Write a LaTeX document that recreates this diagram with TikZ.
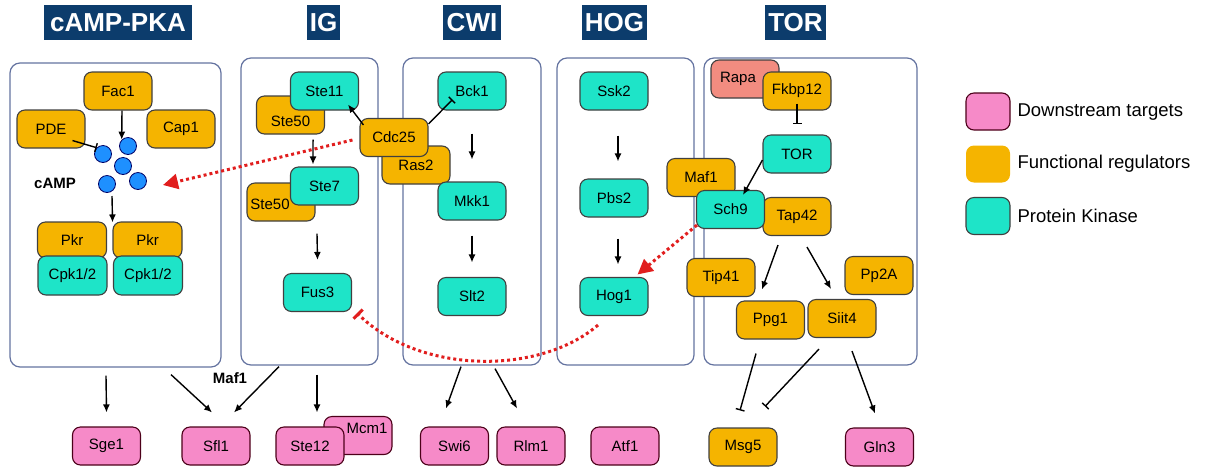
\documentclass[tikz,border=0pt]{standalone}
\usepackage{fontspec}
\setmainfont{Liberation Sans}
\usetikzlibrary{arrows.meta}

\definecolor{regcol}{RGB}{245,180,0}
\definecolor{kincol}{RGB}{30,228,200}
\definecolor{tgtcol}{RGB}{246,138,200}
\definecolor{rapacol}{RGB}{242,140,128}
\definecolor{titlecol}{RGB}{12,60,108}
\definecolor{panelcol}{RGB}{100,115,160}
\definecolor{dotcol}{RGB}{30,144,255}
\definecolor{redcol}{RGB}{225,30,30}

\newcommand{\boxfont}{\fontsize{15}{17}\selectfont}

\tikzset{
  gene/.style={rectangle, rounded corners=8pt, draw=black!75, line width=1.1pt,
    minimum width=68pt, minimum height=38pt, inner sep=1pt, font=\boxfont},
  reg/.style={gene, fill=regcol},
  kin/.style={gene, fill=kincol},
  tgt/.style={gene, fill=tgtcol, draw=black!60!purple},
  panel/.style={rectangle, rounded corners=10pt, draw=panelcol, line width=1.2pt},
  titlebox/.style={fill=titlecol, text=white, font=\fontsize{26}{28}\selectfont\bfseries,
    minimum height=35pt, inner sep=1.5pt},
  campdot/.style={circle, fill=dotcol, draw=blue!40!black, line width=0.8pt,
    minimum size=17pt, inner sep=0pt},
  arr/.style={line width=1.4pt, -{Latex[length=8pt,width=7pt]}},
  inh/.style={line width=1.4pt, -{Bar[width=9pt,line width=1.4pt]}},
  redarr/.style={draw=redcol, line width=3pt, dash pattern=on 3pt off 3pt,
    -{Triangle[length=15pt,width=15pt]}},
  redinh/.style={draw=redcol, line width=3pt, dash pattern=on 3pt off 3pt,
    -{Bar[width=13pt,line width=3pt]}},
  legtext/.style={anchor=west, font=\fontsize{18.5}{20}\selectfont}
}

\begin{document}
\begin{tikzpicture}[x=1pt, y=-1pt]
  \useasboundingbox (0,0) rectangle (1205,467);

  % pathway titles
  \node[titlebox, minimum width=148pt] (tpka) at (118,22.5) {cAMP-PKA};
  \node[titlebox, minimum width=33pt] (tig) at (323.5,22.5) {IG};
  \node[titlebox, minimum width=58pt] (tcwi) at (472,22.5) {CWI};
  \node[titlebox, minimum width=65pt] (thog) at (614.5,22.5) {HOG};
  \node[titlebox, minimum width=61pt] (ttor) at (795.5,22.5) {TOR};

  % panels
  \node[panel, minimum width=211pt, minimum height=304pt] (pka) at (115.5,215) {};
  \node[panel, minimum width=137pt, minimum height=307pt] (ig) at (309.5,211.5) {};
  \node[panel, minimum width=138pt, minimum height=307pt] (cwi) at (472,211.5) {};
  \node[panel, minimum width=137pt, minimum height=307pt] (hog) at (625.5,211.5) {};
  \node[panel, minimum width=213pt, minimum height=307pt] (tor) at (810.5,211.5) {};

  % cAMP-PKA
  \node[reg] (fac1) at (118,91) {Fac1};
  \node[reg] (pde) at (51,129) {PDE};
  \node[reg] (cap1) at (181,129) {Cap1};
  \foreach \n/\x/\y in {1/128/146, 2/103/154, 3/123/166, 4/107/184, 5/138/181}
    \node[campdot] (c\n) at (\x,\y) {};
  \node[font=\boxfont\bfseries] (camp) at (55,183) {cAMP};
  \coordinate (cluster) at (112,196);
  \coordinate (camptip) at (163,185);
  \node[reg, minimum width=69pt, minimum height=36pt] (pkra) at (72,240) {Pkr};
  \node[reg, minimum width=69pt, minimum height=36pt] (pkrb) at (147.5,240) {Pkr};
  \node[kin, minimum width=69pt, minimum height=39pt] (cpka) at (72.5,275.5) {Cpk1/2};
  \node[kin, minimum width=69pt, minimum height=39pt] (cpkb) at (148,275.5) {Cpk1/2};

  \draw[arr] ([xshift=4pt]fac1.south) -- (c1.north west);
  \draw[inh] ([xshift=-13pt,yshift=8pt]pde.south east) -- (c2.north west);
  \draw[arr] (cluster) -- ([xshift=5.5pt,yshift=-1pt]pkra.north east);

  % IG
  \node[reg, label={[font=\boxfont, yshift=-6pt]center:Ste50}] (ste50a) at (290.5,115) {};
  \node[kin] (ste11) at (324.5,91) {Ste11};
  \node[reg, label={[font=\boxfont, xshift=-11pt, yshift=-2pt]center:Ste50}] (ste50b) at (281,202) {};
  \node[kin] (ste7) at (324.5,186) {Ste7};
  \node[kin] (fus3) at (317.5,292.5) {Fus3};

  \draw[arr] ([xshift=-12pt,yshift=-5pt]ste50a.south east) -- ([xshift=-11.5pt,yshift=2pt]ste7.north);
  \draw[arr] ([xshift=-7.5pt,yshift=-28pt]ste7.south) -- ([yshift=13pt]fus3.north);

  % CWI
  \node[reg] (ras2) at (416,165) {Ras2};
  \node[reg] (cdc25) at (394,137.5) {Cdc25};
  \node[kin] (bck1) at (472,91) {Bck1};
  \node[kin] (mkk1) at (472,201) {Mkk1};
  \node[kin] (slt2) at (472,296.5) {Slt2};

  \draw[arr] ([xshift=4pt,yshift=-7pt]cdc25.north west) -- ([xshift=-11pt,yshift=6pt]ste11.south east);
  \draw[inh] ([yshift=-6pt]cdc25.north east) -- ([xshift=15pt,yshift=11pt]bck1.south west);
  \draw[arr] ([yshift=-23pt]bck1.south) -- ([yshift=22pt]mkk1.north);
  \draw[arr] ([yshift=-15pt]mkk1.south) -- ([yshift=14.5pt]slt2.north);

  % HOG
  \node[kin] (ssk2) at (614,91) {Ssk2};
  \node[kin] (pbs2) at (614,198) {Pbs2};
  \node[kin] (hog1) at (614,296.5) {Hog1};

  \draw[arr] ([xshift=4pt,yshift=-25pt]ssk2.south) -- ([xshift=4pt,yshift=17pt]pbs2.north);
  \draw[arr] ([xshift=4pt,yshift=-21pt]pbs2.south) -- ([xshift=4pt,yshift=12.5pt]hog1.north);

  % TOR
  \node[gene, fill=rapacol, label={[font=\boxfont, xshift=-7pt]center:Rapa}] (rapa) at (745,79) {};
  \node[reg] (fkbp12) at (797,91) {Fkbp12};
  \node[kin] (torc) at (797,154) {TOR};
  \node[reg] (maf1) at (701,177.5) {Maf1};
  \node[reg] (tap42) at (797,216.5) {Tap42};
  \node[kin] (sch9) at (730.5,209.5) {Sch9};
  \node[reg] (tip41) at (721,277.5) {Tip41};
  \node[reg] (pp2a) at (879,275.5) {Pp2A};
  \node[reg] (ppg1) at (770.5,320) {Ppg1};
  \node[reg] (siit4) at (842,318.5) {Siit4};

  \draw[inh] ([yshift=7pt]fkbp12.south) -- ([yshift=10pt]torc.north);
  \draw[arr] ([yshift=-6pt]torc.west) -- ([xshift=12.5pt,yshift=-5pt]sch9.north);
  \draw[arr] ([xshift=-19pt,yshift=-9pt]tap42.south) -- ([xshift=-8.5pt,yshift=11pt]ppg1.north);
  \draw[arr] ([xshift=10pt,yshift=-11pt]tap42.south) -- ([xshift=-11pt,yshift=10pt]siit4.north);

  % downstream targets
  \node[tgt] (sge1) at (106.5,446) {Sge1};
  \node[tgt] (sfl1) at (216,446) {Sfl1};
  \node[tgt, label={[font=\boxfont, xshift=9pt, yshift=7.5pt]center:Mcm1}] (mcm1) at (358,435.5) {};
  \node[tgt] (ste12) at (310,446) {Ste12};
  \node[tgt] (swi6) at (454.5,446) {Swi6};
  \node[tgt] (rlm1) at (531,446) {Rlm1};
  \node[tgt] (atf1) at (625,446) {Atf1};
  \node[reg] (msg5) at (743,447) {Msg5};
  \node[tgt] (gln3) at (879.5,447) {Gln3};
  \node[font=\boxfont\bfseries] (maflabel) at (230,378) {Maf1};

  \draw[arr] ([xshift=-9.5pt,yshift=-8pt]pka.south) -- ([yshift=14pt]sge1.north);
  \draw[arr] ([xshift=55.5pt,yshift=-7pt]pka.south) -- ([xshift=-4pt,yshift=14pt]sfl1.north);
  \draw[arr] ([xshift=-30.5pt,yshift=-1pt]ig.south) -- ([xshift=18pt,yshift=14pt]sfl1.north);
  \draw[arr] ([xshift=7.5pt,yshift=-9pt]ig.south) -- ([xshift=7pt,yshift=14pt]ste12.north);
  \draw[arr] ([xshift=-11pt,yshift=-1pt]cwi.south) -- ([xshift=-8.5pt,yshift=18pt]swi6.north);
  \draw[arr] ([xshift=23pt,yshift=-3pt]cwi.south) -- ([xshift=-14pt,yshift=18pt]rlm1.north);
  \draw[inh] ([xshift=-14.5pt,yshift=-14pt]ppg1.south) -- ([xshift=-3pt,yshift=17pt]msg5.north);
  \draw[inh] ([xshift=-23pt,yshift=-11pt]siit4.south) -- ([xshift=22pt,yshift=21pt]msg5.north);
  \draw[arr] ([xshift=10pt,yshift=-13pt]siit4.south) -- ([xshift=-4.5pt,yshift=14pt]gln3.north);

  % cross-talk
  \draw[redarr] ([xshift=-7pt,yshift=-2.5pt]cdc25.west) -- (camptip);
  \draw[redarr] ([xshift=1pt,yshift=4pt]sch9.south west) -- ([xshift=-11pt,yshift=2.5pt]hog1.north east);
  \draw[redinh] ([xshift=-16pt,yshift=-9pt]hog1.south) .. controls (540,375) and (420,375) .. ([xshift=5pt,yshift=-1pt]fus3.south east);

  % legend
  \node[gene, fill=tgtcol, draw=black!60!purple, minimum width=44pt, minimum height=37pt] (lgtgt) at (988,111.5) {};
  \node[gene, fill=regcol, draw=none, minimum width=44pt, minimum height=37pt] (lgreg) at (988,164) {};
  \node[gene, fill=kincol, minimum width=44pt, minimum height=37pt] (lgkin) at (988,216) {};
  \node[legtext] (lttgt) at (1014,112) {Downstream targets};
  \node[legtext] (ltreg) at (1014,164) {Functional regulators};
  \node[legtext] (ltkin) at (1014,216) {Protein Kinase};
\end{tikzpicture}
\end{document}
